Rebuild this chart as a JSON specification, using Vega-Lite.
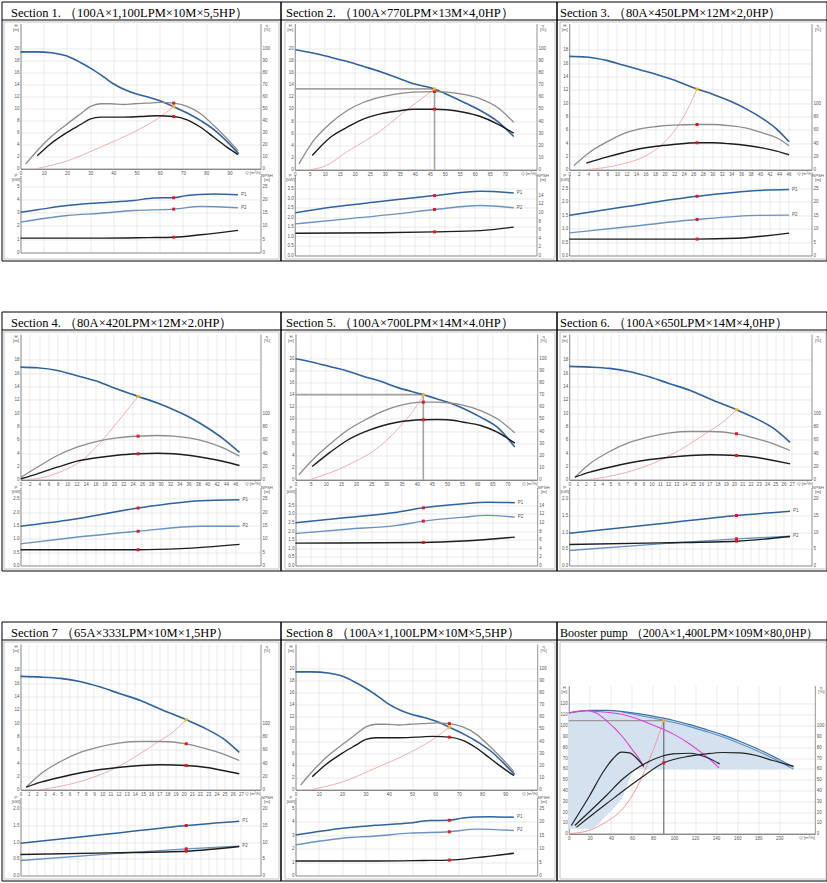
{
"$schema":"https://vega.github.io/schema/vega-lite/v6.json",
"padding":{"left":0.5,"top":0.5,"right":0.5,"bottom":0.5},
"config":{
 "view":{"stroke":"#000","strokeWidth":1},
 "axis":{"ticks":false,"labelFontSize":4.5,"labelColor":"#555","labelFont":"Liberation Sans","labelPadding":1.5,"labelFlush":false,"labelOverlap":false,"labelBound":false,"domainColor":"#777","domainWidth":0.8,"gridColor":"#dcdcdc","gridWidth":0.6,"titleFontSize":4.3,"titleFontWeight":"normal","titleColor":"#555","titleFont":"Liberation Sans","titleLineHeight":4},
 "axisY":{"titleAngle":0,"titleAlign":"center","titleBaseline":"top"},
 "axisLeft":{"titleX":-5},
 "axisRight":{"titleX":6},
 "line":{"interpolate":"monotone"},
 "square":{"size":9,"opacity":1},
 "text":{"fontSize":4.5,"color":"#555","font":"Liberation Sans","align":"left","dx":3}
},
"datasets":{
"A":[
{"c":"H","q":0,"v":19.4},{"c":"H","q":7,"v":19.4},{"c":"H","q":14,"v":19.2},{"c":"H","q":20,"v":18.7},{"c":"H","q":26,"v":17.6},{"c":"H","q":31,"v":16.5},{"c":"H","q":36,"v":15.2},{"c":"H","q":40,"v":14.1},{"c":"H","q":45,"v":13.1},{"c":"H","q":50,"v":12.4},{"c":"H","q":55,"v":11.9},{"c":"H","q":60,"v":11.3},{"c":"H","q":66,"v":10.3},{"c":"H","q":72,"v":9.2},{"c":"H","q":78,"v":7.9},{"c":"H","q":84,"v":6.3},{"c":"H","q":89,"v":4.5},{"c":"H","q":94,"v":2.5},
{"c":"E1","q":2.2,"v":3.9},{"c":"E1","q":7.2,"v":15},{"c":"E1","q":12.9,"v":26.1},{"c":"E1","q":20.1,"v":37.2},{"c":"E1","q":25.9,"v":45.6},{"c":"E1","q":30.2,"v":51.7},{"c":"E1","q":34.5,"v":53.9},{"c":"E1","q":38.8,"v":53.9},{"c":"E1","q":44.5,"v":53.3},{"c":"E1","q":48.9,"v":53.9},{"c":"E1","q":54.6,"v":54.4},{"c":"E1","q":60.3,"v":55},{"c":"E1","q":66,"v":54.4},{"c":"E1","q":71.8,"v":51.7},{"c":"E1","q":77.6,"v":45.6},{"c":"E1","q":83.3,"v":35.8},{"c":"E1","q":89.1,"v":24.7},{"c":"E1","q":93.7,"v":15},
{"c":"E2","q":7.2,"v":10.8},{"c":"E2","q":12.9,"v":20.6},{"c":"E2","q":20.1,"v":30.2},{"c":"E2","q":25.9,"v":36.7},{"c":"E2","q":30.2,"v":41.4},{"c":"E2","q":34.5,"v":42.8},{"c":"E2","q":38.8,"v":42.8},{"c":"E2","q":44.5,"v":42.8},{"c":"E2","q":51.7,"v":43.3},{"c":"E2","q":58.9,"v":43.9},{"c":"E2","q":66,"v":43.3},{"c":"E2","q":71.8,"v":40.6},{"c":"E2","q":77.6,"v":34.4},{"c":"E2","q":83.3,"v":26.1},{"c":"E2","q":89.1,"v":17.8},{"c":"E2","q":93.7,"v":11.7},
{"c":"S","q":6.6,"v":0},{"c":"S","q":20.1,"v":1.3},{"c":"S","q":34.5,"v":3.6},{"c":"S","q":48.9,"v":6.1},{"c":"S","q":59,"v":8.3},{"c":"S","q":66,"v":10.3},
{"c":"P1","q":0,"v":3.03},{"c":"P1","q":7.2,"v":3.21},{"c":"P1","q":20.1,"v":3.53},{"c":"P1","q":34.5,"v":3.74},{"c":"P1","q":48.9,"v":3.91},{"c":"P1","q":57.5,"v":4.1},{"c":"P1","q":66,"v":4.12},{"c":"P1","q":71.8,"v":4.29},{"c":"P1","q":77.6,"v":4.36},{"c":"P1","q":83.3,"v":4.39},{"c":"P1","q":93.7,"v":4.34},
{"c":"P2","q":0,"v":2.28},{"c":"P2","q":20.1,"v":2.78},{"c":"P2","q":34.5,"v":2.95},{"c":"P2","q":48.9,"v":3.16},{"c":"P2","q":66,"v":3.26},{"c":"P2","q":77.6,"v":3.46},{"c":"P2","q":93.7,"v":3.36},
{"c":"N","q":0,"v":5.4},{"c":"N","q":34.5,"v":5.4},{"c":"N","q":55,"v":5.6},{"c":"N","q":66,"v":5.75},{"c":"N","q":77.6,"v":6.65},{"c":"N","q":93.7,"v":8.3},
{"c":"oH","q":66,"v":10.3},{"c":"oE1","q":66,"v":54.4},{"c":"oE2","q":66,"v":43.3},{"c":"oP1","q":66,"v":4.12},{"c":"oP2","q":66,"v":3.26},{"c":"oN","q":66,"v":5.75}
],
"B":[
{"c":"H","q":0.2,"v":19.74},{"c":"H","q":6.3,"v":19.18},{"c":"H","q":11.9,"v":18.52},{"c":"H","q":17.5,"v":17.81},{"c":"H","q":23,"v":16.99},{"c":"H","q":28.6,"v":16.12},{"c":"H","q":34.1,"v":15.13},{"c":"H","q":39.7,"v":14.14},{"c":"H","q":46.6,"v":13.3},{"c":"H","q":50.8,"v":12.38},{"c":"H","q":56.3,"v":11.12},{"c":"H","q":61.9,"v":9.75},{"c":"H","q":67.5,"v":8.0},{"c":"H","q":73,"v":5.48},
{"c":"E1","q":1.4,"v":4.9},{"c":"E1","q":6.3,"v":24.1},{"c":"E1","q":11.9,"v":38.3},{"c":"E1","q":17.5,"v":48.7},{"c":"E1","q":23,"v":55.5},{"c":"E1","q":28.6,"v":59.7},{"c":"E1","q":34.1,"v":62.4},{"c":"E1","q":39.7,"v":63.8},{"c":"E1","q":46.6,"v":64.3},{"c":"E1","q":50.8,"v":63.8},{"c":"E1","q":56.3,"v":61.9},{"c":"E1","q":61.9,"v":58.3},{"c":"E1","q":67.5,"v":51.4},{"c":"E1","q":73,"v":39.1},
{"c":"E2","q":5.8,"v":11.75},{"c":"E2","q":11.9,"v":26.8},{"c":"E2","q":17.5,"v":35},{"c":"E2","q":23,"v":41.9},{"c":"E2","q":28.6,"v":46},{"c":"E2","q":34.1,"v":48.2},{"c":"E2","q":39.7,"v":49.8},{"c":"E2","q":46.6,"v":49.8},{"c":"E2","q":50.8,"v":49.3},{"c":"E2","q":56.3,"v":47.3},{"c":"E2","q":61.9,"v":43.8},{"c":"E2","q":67.5,"v":37.8},{"c":"E2","q":73,"v":30.1},
{"c":"S","q":5,"v":0},{"c":"S","q":10,"v":0.6},{"c":"S","q":17.5,"v":3.0},{"c":"S","q":28.6,"v":6.4},{"c":"S","q":36.9,"v":9.7},{"c":"S","q":42,"v":11.6},{"c":"S","q":46.6,"v":13.3},
{"c":"P1","q":0.2,"v":2.24},{"c":"P1","q":11.9,"v":2.53},{"c":"P1","q":28.6,"v":2.83},{"c":"P1","q":46.6,"v":3.14},{"c":"P1","q":61.9,"v":3.37},{"c":"P1","q":73,"v":3.28},
{"c":"P2","q":0.2,"v":1.66},{"c":"P2","q":17.5,"v":1.92},{"c":"P2","q":34.1,"v":2.18},{"c":"P2","q":46.6,"v":2.41},{"c":"P2","q":61.9,"v":2.62},{"c":"P2","q":73,"v":2.5},
{"c":"N","q":0.2,"v":5.2},{"c":"N","q":28.6,"v":5.3},{"c":"N","q":46.6,"v":5.5},{"c":"N","q":61.9,"v":5.8},{"c":"N","q":73,"v":6.6},
{"c":"oH","q":46.6,"v":13.3},{"c":"oE1","q":46.6,"v":64.3},{"c":"oE2","q":46.6,"v":49.8},{"c":"oP1","q":46.6,"v":3.14},{"c":"oP2","q":46.6,"v":2.41},{"c":"oN","q":46.6,"v":5.5}
],
"C":[
{"c":"H","q":0,"v":17},{"c":"H","q":3.6,"v":16.9},{"c":"H","q":7.8,"v":16.4},{"c":"H","q":11.3,"v":15.7},{"c":"H","q":14.8,"v":15},{"c":"H","q":18.3,"v":14.3},{"c":"H","q":21.8,"v":13.5},{"c":"H","q":26.8,"v":12.1},{"c":"H","q":30.2,"v":11.3},{"c":"H","q":33.7,"v":10.3},{"c":"H","q":37.2,"v":9.1},{"c":"H","q":40.7,"v":7.6},{"c":"H","q":43.5,"v":6.1},{"c":"H","q":46.1,"v":4.2},
{"c":"E1","q":1,"v":6.4},{"c":"E1","q":4.3,"v":26.4},{"c":"E1","q":7.8,"v":41.4},{"c":"E1","q":11.3,"v":54},{"c":"E1","q":14.8,"v":61.5},{"c":"E1","q":18.3,"v":64.9},{"c":"E1","q":21.8,"v":66.9},{"c":"E1","q":26.8,"v":67.9},{"c":"E1","q":30.2,"v":67.9},{"c":"E1","q":33.7,"v":66},{"c":"E1","q":37.2,"v":62.4},{"c":"E1","q":40.7,"v":54.9},{"c":"E1","q":43.5,"v":48},{"c":"E1","q":46.1,"v":36},
{"c":"E2","q":3.6,"v":9.9},{"c":"E2","q":7.8,"v":18.9},{"c":"E2","q":11.3,"v":25.5},{"c":"E2","q":14.8,"v":31.5},{"c":"E2","q":18.3,"v":35.4},{"c":"E2","q":21.8,"v":37.9},{"c":"E2","q":26.8,"v":40.5},{"c":"E2","q":30.2,"v":40.5},{"c":"E2","q":33.7,"v":39},{"c":"E2","q":37.2,"v":36.4},{"c":"E2","q":40.7,"v":32.4},{"c":"E2","q":43.5,"v":27.9},{"c":"E2","q":46.1,"v":22.5},
{"c":"S","q":3.6,"v":0},{"c":"S","q":11.3,"v":0.9},{"c":"S","q":16.1,"v":2.1},{"c":"S","q":19.6,"v":3.9},{"c":"S","q":23.1,"v":6.9},{"c":"S","q":25.2,"v":9.6},{"c":"S","q":26.8,"v":12.1},
{"c":"P1","q":0,"v":1.49},{"c":"P1","q":11.3,"v":1.8},{"c":"P1","q":26.8,"v":2.2},{"c":"P1","q":39.7,"v":2.42},{"c":"P1","q":46.1,"v":2.45},
{"c":"P2","q":0,"v":0.84},{"c":"P2","q":11.3,"v":1.05},{"c":"P2","q":26.8,"v":1.34},{"c":"P2","q":39.7,"v":1.49},{"c":"P2","q":46.1,"v":1.5},
{"c":"N","q":0,"v":6.1},{"c":"N","q":18.3,"v":6.1},{"c":"N","q":26.8,"v":6.1},{"c":"N","q":35,"v":6.4},{"c":"N","q":46.1,"v":8.3},
{"c":"oH","q":26.8,"v":12.1},{"c":"oE1","q":26.8,"v":67.9},{"c":"oE2","q":26.8,"v":40.5},{"c":"oP1","q":26.8,"v":2.2},{"c":"oP2","q":26.8,"v":1.34},{"c":"oN","q":26.8,"v":6.1}
],
"D":[
{"c":"H","q":0,"v":16.9},{"c":"H","q":3.6,"v":16.8},{"c":"H","q":7.9,"v":16.4},{"c":"H","q":12.1,"v":15.6},{"c":"H","q":17.1,"v":14.6},{"c":"H","q":20.7,"v":13.6},{"c":"H","q":25.2,"v":12.5},{"c":"H","q":29.3,"v":11.5},{"c":"H","q":32.8,"v":10.5},{"c":"H","q":36.4,"v":9.3},{"c":"H","q":40,"v":7.8},{"c":"H","q":43.5,"v":6.1},{"c":"H","q":46.9,"v":4.1},
{"c":"E1","q":0.1,"v":3.9},{"c":"E1","q":3.6,"v":18.9},{"c":"E1","q":7.9,"v":36.4},{"c":"E1","q":12.1,"v":48.9},{"c":"E1","q":17.1,"v":58.9},{"c":"E1","q":20.7,"v":63},{"c":"E1","q":25.2,"v":65.4},{"c":"E1","q":29.3,"v":66.4},{"c":"E1","q":32.8,"v":65.4},{"c":"E1","q":36.4,"v":62.4},{"c":"E1","q":40,"v":56.4},{"c":"E1","q":43.5,"v":47.4},{"c":"E1","q":46.9,"v":35.4},
{"c":"E2","q":0.1,"v":1.5},{"c":"E2","q":3.6,"v":9},{"c":"E2","q":7.9,"v":18.9},{"c":"E2","q":12.1,"v":27.9},{"c":"E2","q":17.1,"v":33.9},{"c":"E2","q":20.7,"v":36.9},{"c":"E2","q":25.2,"v":39},{"c":"E2","q":29.3,"v":39.9},{"c":"E2","q":32.8,"v":39},{"c":"E2","q":36.4,"v":36.4},{"c":"E2","q":40,"v":32.4},{"c":"E2","q":43.5,"v":27.4},{"c":"E2","q":46.9,"v":21.4},
{"c":"S","q":1.8,"v":0},{"c":"S","q":6.4,"v":0.64},{"c":"S","q":10,"v":1.65},{"c":"S","q":13.6,"v":3.15},{"c":"S","q":17.1,"v":5.6},{"c":"S","q":20.7,"v":8.6},{"c":"S","q":23.6,"v":11.1},{"c":"S","q":25.2,"v":12.5},
{"c":"P1","q":0,"v":1.47},{"c":"P1","q":10,"v":1.69},{"c":"P1","q":25.2,"v":2.15},{"c":"P1","q":38.6,"v":2.42},{"c":"P1","q":46.9,"v":2.46},
{"c":"P2","q":0,"v":0.81},{"c":"P2","q":10,"v":1.02},{"c":"P2","q":25.2,"v":1.28},{"c":"P2","q":38.6,"v":1.47},{"c":"P2","q":46.9,"v":1.47},
{"c":"N","q":0,"v":5.9},{"c":"N","q":25.2,"v":5.9},{"c":"N","q":34.3,"v":6.3},{"c":"N","q":46.9,"v":7.9},
{"c":"oH","q":25.2,"v":12.5},{"c":"oE1","q":25.2,"v":65.4},{"c":"oE2","q":25.2,"v":39},{"c":"oP1","q":25.2,"v":2.15},{"c":"oP2","q":25.2,"v":1.28},{"c":"oN","q":25.2,"v":5.9}
],
"E":[
{"c":"H","q":0,"v":19.9},{"c":"H","q":6,"v":19.3},{"c":"H","q":11.5,"v":18.6},{"c":"H","q":17,"v":17.9},{"c":"H","q":22.6,"v":17},{"c":"H","q":28.1,"v":16.2},{"c":"H","q":33.6,"v":15.2},{"c":"H","q":42.2,"v":14},{"c":"H","q":46.8,"v":13.3},{"c":"H","q":50.1,"v":12.8},{"c":"H","q":55.6,"v":11.7},{"c":"H","q":61.1,"v":10.3},{"c":"H","q":66.6,"v":8.65},{"c":"H","q":72.4,"v":5.4},
{"c":"E1","q":1.1,"v":4.1},{"c":"E1","q":6,"v":17.3},{"c":"E1","q":11.5,"v":29.6},{"c":"E1","q":17,"v":40.5},{"c":"E1","q":22.6,"v":48.7},{"c":"E1","q":28.1,"v":55.6},{"c":"E1","q":33.6,"v":60.5},{"c":"E1","q":42.2,"v":63.8},{"c":"E1","q":46.8,"v":63.8},{"c":"E1","q":50.1,"v":63.3},{"c":"E1","q":55.6,"v":61.1},{"c":"E1","q":61.1,"v":56.9},{"c":"E1","q":66.6,"v":50.1},{"c":"E1","q":72.4,"v":38.6},
{"c":"E2","q":5.5,"v":10.9},{"c":"E2","q":11.5,"v":22.7},{"c":"E2","q":17,"v":32.3},{"c":"E2","q":22.6,"v":39.1},{"c":"E2","q":28.1,"v":44},{"c":"E2","q":33.6,"v":47.3},{"c":"E2","q":42.2,"v":49.3},{"c":"E2","q":46.8,"v":49.5},{"c":"E2","q":50.1,"v":49.3},{"c":"E2","q":55.6,"v":47.3},{"c":"E2","q":61.1,"v":44.6},{"c":"E2","q":66.6,"v":39.1},{"c":"E2","q":72.4,"v":30.1},
{"c":"S","q":4.7,"v":0},{"c":"S","q":17,"v":2.35},{"c":"S","q":28.1,"v":5.64},{"c":"S","q":35.8,"v":9.5},{"c":"S","q":40.1,"v":12.2},{"c":"S","q":42.2,"v":14},
{"c":"P1","q":0,"v":2.48},{"c":"P1","q":17,"v":2.79},{"c":"P1","q":33.6,"v":3.1},{"c":"P1","q":42.2,"v":3.35},{"c":"P1","q":55.6,"v":3.59},{"c":"P1","q":63.3,"v":3.68},{"c":"P1","q":72.4,"v":3.65},
{"c":"P2","q":0,"v":1.86},{"c":"P2","q":17,"v":2.11},{"c":"P2","q":33.6,"v":2.33},{"c":"P2","q":42.2,"v":2.58},{"c":"P2","q":55.6,"v":2.81},{"c":"P2","q":63.3,"v":2.91},{"c":"P2","q":72.4,"v":2.81},
{"c":"N","q":0,"v":5.2},{"c":"N","q":42.2,"v":5.35},{"c":"N","q":55.6,"v":5.7},{"c":"N","q":72.4,"v":6.6},
{"c":"oH","q":42.2,"v":14},{"c":"oE1","q":42.2,"v":63.8},{"c":"oE2","q":42.2,"v":49.3},{"c":"oP1","q":42.2,"v":3.35},{"c":"oP2","q":42.2,"v":2.58},{"c":"oN","q":42.2,"v":5.35}
],
"F":[
{"c":"H","q":0,"v":17},{"c":"H","q":2.5,"v":16.9},{"c":"H","q":4.9,"v":16.7},{"c":"H","q":7.4,"v":16.2},{"c":"H","q":9.8,"v":15.4},{"c":"H","q":12.2,"v":14.4},{"c":"H","q":14.7,"v":13.4},{"c":"H","q":17.1,"v":12.1},{"c":"H","q":20.3,"v":10.5},{"c":"H","q":22.8,"v":9.1},{"c":"H","q":24.8,"v":7.7},{"c":"H","q":26.8,"v":5.6},
{"c":"E1","q":0.7,"v":3.9},{"c":"E1","q":2.5,"v":24},{"c":"E1","q":4.9,"v":42.4},{"c":"E1","q":7.4,"v":56.4},{"c":"E1","q":9.8,"v":64.9},{"c":"E1","q":12.2,"v":70.5},{"c":"E1","q":14.7,"v":72.4},{"c":"E1","q":17.1,"v":72.4},{"c":"E1","q":20.3,"v":69},{"c":"E1","q":22.8,"v":61.5},{"c":"E1","q":24.8,"v":54},{"c":"E1","q":26.8,"v":43.9},
{"c":"E2","q":0.7,"v":3.9},{"c":"E2","q":2.5,"v":11.4},{"c":"E2","q":4.9,"v":18.9},{"c":"E2","q":7.4,"v":25.5},{"c":"E2","q":9.8,"v":30.4},{"c":"E2","q":12.2,"v":33.9},{"c":"E2","q":14.7,"v":36.4},{"c":"E2","q":17.1,"v":37.5},{"c":"E2","q":20.3,"v":36.4},{"c":"E2","q":22.8,"v":33.4},{"c":"E2","q":24.8,"v":28.9},{"c":"E2","q":26.8,"v":24},
{"c":"S","q":2.3,"v":0},{"c":"S","q":6.9,"v":1.1},{"c":"S","q":11,"v":2.9},{"c":"S","q":14,"v":4.9},{"c":"S","q":16.5,"v":6.9},{"c":"S","q":18.9,"v":8.9},{"c":"S","q":20.3,"v":10.5},
{"c":"P1","q":0,"v":0.97},{"c":"P1","q":11,"v":1.25},{"c":"P1","q":20.3,"v":1.5},{"c":"P1","q":26.8,"v":1.63},
{"c":"P2","q":0,"v":0.45},{"c":"P2","q":11,"v":0.65},{"c":"P2","q":20.3,"v":0.8},{"c":"P2","q":26.8,"v":0.88},
{"c":"N","q":0,"v":6.3},{"c":"N","q":11,"v":6.8},{"c":"N","q":20.3,"v":7.3},{"c":"N","q":26.8,"v":8.7},
{"c":"oH","q":20.3,"v":10.5},{"c":"oE1","q":20.3,"v":69},{"c":"oE2","q":20.3,"v":36.4},{"c":"oP1","q":20.3,"v":1.5},{"c":"oP2","q":20.3,"v":0.8},{"c":"oN","q":20.3,"v":7.3}
],
"G":[
{"c":"AR","q":0,"v":111.7,"w":4.6},{"c":"AR","q":19.9,"v":114.1,"w":4.6},{"c":"AR","q":35.7,"v":114.1,"w":16.9},{"c":"AR","q":51.5,"v":112.9,"w":35.4},{"c":"AR","q":61,"v":111.5,"w":56.9},{"c":"AR","q":64.2,"v":111,"w":59.4},{"c":"AR","q":83.2,"v":108,"w":59.4},{"c":"AR","q":99,"v":104.9,"w":59.4},{"c":"AR","q":114.9,"v":100.9,"w":59.4},{"c":"AR","q":130.7,"v":96.3,"w":59.4},{"c":"AR","q":146.5,"v":91.4,"w":59.4},{"c":"AR","q":162.4,"v":85.5,"w":59.4},{"c":"AR","q":178.2,"v":79,"w":59.4},{"c":"AR","q":194,"v":71.7,"w":59.4},{"c":"AR","q":210,"v":63,"w":59.4},
{"c":"H1","q":0,"v":111.7},{"c":"H1","q":19.9,"v":114.1},{"c":"H1","q":35.7,"v":114.1},{"c":"H1","q":51.5,"v":112.9},{"c":"H1","q":67.4,"v":110.8},{"c":"H1","q":83.2,"v":108},{"c":"H1","q":99,"v":104.9},{"c":"H1","q":114.9,"v":100.9},{"c":"H1","q":130.7,"v":96.3},{"c":"H1","q":146.5,"v":91.4},{"c":"H1","q":162.4,"v":85.5},{"c":"H1","q":178.2,"v":79},{"c":"H1","q":194,"v":71.7},{"c":"H1","q":213.6,"v":61.5},
{"c":"H2","q":51.5,"v":112.3},{"c":"H2","q":67.4,"v":109.3},{"c":"H2","q":83.2,"v":106.3},{"c":"H2","q":99,"v":103},{"c":"H2","q":114.9,"v":99},{"c":"H2","q":130.7,"v":94.4},{"c":"H2","q":146.5,"v":89.4},{"c":"H2","q":162.4,"v":83.5},{"c":"H2","q":178.2,"v":77},{"c":"H2","q":194,"v":69.7},{"c":"H2","q":213.6,"v":59.7},
{"c":"M1","q":0,"v":111.7},{"c":"M1","q":16.6,"v":113.8},{"c":"M1","q":26.1,"v":111.7},{"c":"M1","q":35.7,"v":104.6},{"c":"M1","q":51.5,"v":89.2},{"c":"M1","q":61,"v":76.9},{"c":"M1","q":67.4,"v":68.6},{"c":"M1","q":71.2,"v":61.5},
{"c":"M2","q":19.9,"v":113.5},{"c":"M2","q":51.5,"v":110.2},{"c":"M2","q":83.2,"v":99.1},{"c":"M2","q":99,"v":92.3},{"c":"M2","q":114.9,"v":83},{"c":"M2","q":127.6,"v":73.8},{"c":"M2","q":137.1,"v":66.1},{"c":"M2","q":142.8,"v":60.9},
{"c":"K1","q":2.4,"v":7.7},{"c":"K1","q":19.9,"v":35.4},{"c":"K1","q":32.5,"v":56.9},{"c":"K1","q":42,"v":69.3},{"c":"K1","q":49.9,"v":75.4},{"c":"K1","q":57.8,"v":74.8},{"c":"K1","q":65.7,"v":68.6},{"c":"K1","q":71.2,"v":62.4},
{"c":"K2","q":5.7,"v":7.7},{"c":"K2","q":35.7,"v":35.4},{"c":"K2","q":51.5,"v":50.8},{"c":"K2","q":67.4,"v":62.1},{"c":"K2","q":83.2,"v":69.8},{"c":"K2","q":99,"v":73.9},{"c":"K2","q":114.9,"v":74.4},{"c":"K2","q":130.7,"v":70.7},{"c":"K2","q":143.4,"v":64.6},
{"c":"K3","q":7.3,"v":6.1},{"c":"K3","q":35.7,"v":27.7},{"c":"K3","q":67.4,"v":50.8},{"c":"K3","q":90.3,"v":65.6},{"c":"K3","q":114.9,"v":71.7},{"c":"K3","q":130.7,"v":73.9},{"c":"K3","q":146.5,"v":75.1},{"c":"K3","q":162.4,"v":74.8},{"c":"K3","q":178.2,"v":72.3},{"c":"K3","q":194,"v":67.7},{"c":"K3","q":213.6,"v":62.4},
{"c":"S","q":0,"v":0},{"c":"S","q":19.9,"v":3.4},{"c":"S","q":35.7,"v":11.1},{"c":"S","q":51.5,"v":23.4},{"c":"S","q":67.4,"v":48},{"c":"S","q":76.9,"v":69.6},{"c":"S","q":83.2,"v":85},{"c":"S","q":90.3,"v":104.6},
{"c":"oH","q":90.3,"v":104.6},{"c":"oK","q":90.3,"v":65.6}
]
},
"columns":3,
"bounds":"flush",
"spacing":{"row":51,"column":0},
"concat":[
{"width":279,"height":259,"data":{"name":"A"},
 "resolve":{"scale":{"x":"independent","y":"independent"},"axis":{"x":"independent","y":"independent"}},
 "layer":[
  {"encoding":{"x":{"field":"q","type":"quantitative","scale":{"domain":[0,103.4],"range":[19,259],"nice":false,"zero":false},"axis":{"orient":"top","offset":-167.3,"grid":true,"labels":false,"values":[0,10,20,30,40,50,60,70,80,90],"title":null}},
   "y":{"field":"v","type":"quantitative","scale":{"domain":[0,24.1],"range":[167.3,22],"nice":false,"zero":false},"axis":{"orient":"left","offset":-19,"grid":true,"values":[0,2,4,6,8,10,12,14,16,18,20],"title":["H","[m]"],"titleY":22}}},
   "layer":[
    {"transform":[{"filter":"datum.c=='S'"}],"mark":{"type":"line","color":"#f3a5a5","strokeWidth":0.9},"encoding":{}},
    {"transform":[{"filter":"datum.c=='H'"}],"mark":{"type":"line","color":"#2f62a0","strokeWidth":1.6},"encoding":{}}]},
  {"encoding":{"x":{"field":"q","type":"quantitative","scale":{"domain":[0,103.4],"range":[19,259],"nice":false,"zero":false},"axis":{"orient":"bottom","offset":-91.7,"values":[0,10,20,30,40,50,60,70,80,90],"title":"Q [m³/h]","titleX":251,"titleY":2}},
   "y":{"field":"v","type":"quantitative","scale":{"domain":[0,120.4],"range":[167.3,22],"nice":false,"zero":false},"axis":{"orient":"right","offset":-20,"values":[0,10,20,30,40,50,60,70,80,90,100],"title":["η","[%]"],"titleY":22}}},
   "layer":[
    {"transform":[{"filter":"datum.c=='E1'"}],"mark":{"type":"line","color":"#8c8c8c","strokeWidth":1.3},"encoding":{}},
    {"transform":[{"filter":"datum.c=='E2'"}],"mark":{"type":"line","color":"#1c1c1c","strokeWidth":1.4},"encoding":{}},
    {"transform":[{"filter":"datum.c=='oE1'||datum.c=='oE2'"}],"mark":{"type":"square","color":"#e3191c"},"encoding":{}}]},
  {"encoding":{"x":{"field":"q","type":"quantitative","scale":{"domain":[0,103.4],"range":[19,259],"nice":false,"zero":false},"axis":{"orient":"top","offset":-251,"grid":true,"labels":false,"values":[0,10,20,30,40,50,60,70,80,90],"title":null}},
   "y":{"field":"v","type":"quantitative","scale":{"domain":[0,5.79],"range":[251,174],"nice":false,"zero":false},"axis":{"orient":"left","offset":-19,"grid":true,"values":[0,1,2,3,4,5],"title":["P","[kW]"],"titleY":172}}},
   "layer":[
    {"transform":[{"filter":"datum.c=='P1'"}],"mark":{"type":"line","color":"#2f62a0","strokeWidth":1.5},"encoding":{}},
    {"transform":[{"filter":"datum.c=='P2'"}],"mark":{"type":"line","color":"#6a93c3","strokeWidth":1.4},"encoding":{}},
    {"transform":[{"filter":"datum.c=='oP1'||datum.c=='oP2'"}],"mark":{"type":"square","color":"#e3191c"},"encoding":{}},
    {"transform":[{"filter":"datum.c=='P1'||datum.c=='P2'"},{"joinaggregate":[{"op":"max","field":"q","as":"m"}],"groupby":["c"]},{"filter":"datum.q==datum.m"}],"mark":{"type":"text"},"encoding":{"text":{"field":"c"}}}]},
  {"encoding":{"x":{"field":"q","type":"quantitative","scale":{"domain":[-8.186,112.02],"range":[0,279],"nice":false,"zero":false},"axis":{"orient":"top","offset":-18,"labels":false,"grid":false,"domainColor":"#000","domainWidth":1,"title":"Section 1. （100A×1,100LPM×10M×5,5HP）","titleFont":"Liberation Serif","titleFontSize":12.5,"titleColor":"#000","titleX":9,"titleY":-3,"titleAlign":"left","titleBaseline":"alphabetic"}},
   "y":{"field":"v","type":"quantitative","scale":{"domain":[0,28.95],"range":[251,174],"nice":false,"zero":false},"axis":{"orient":"right","offset":-20,"values":[0,5,10,15,20,25],"title":["NPSH","[m]"],"titleY":172}}},
   "layer":[
    {"transform":[{"filter":"datum.c=='N'"}],"mark":{"type":"line","color":"#1c1c1c","strokeWidth":1.4},"encoding":{}},
    {"transform":[{"filter":"datum.c=='oN'"}],"mark":{"type":"square","color":"#e3191c"},"encoding":{}}]},
  {"encoding":{"x":{"field":"q","type":"quantitative","scale":{"domain":[-7.54,111.155],"range":[1.5,277],"nice":false,"zero":false},"axis":{"orient":"top","grid":true,"labels":false,"domain":false,"values":[-7.54,111.155],"gridColor":"#b4b4b4","gridWidth":0.8,"title":null}},
   "y":{"field":"v","type":"quantitative","scale":{"domain":[-14.795,24.432],"range":[256.5,20],"nice":false,"zero":false},"axis":{"orient":"left","grid":true,"labels":false,"domain":false,"values":[-14.795,24.432],"gridColor":"#b4b4b4","gridWidth":0.8,"title":null}}},
   "layer":[{"transform":[{"filter":"datum.c=='oH'"}],"mark":{"type":"square","color":"#f2b316"},"encoding":{}}]}
 ]},
{"width":276,"height":259,"data":{"name":"B"},
 "resolve":{"scale":{"x":"independent","y":"independent"},"axis":{"x":"independent","y":"independent"}},
 "layer":[
  {"encoding":{"x":{"field":"q","type":"quantitative","scale":{"domain":[0,80.6],"range":[14.3,256],"nice":false,"zero":false},"axis":{"orient":"top","offset":-168.3,"grid":true,"labels":false,"values":[0,5,10,15,20,25,30,35,40,45,50,55,60,65,70],"title":null}},
   "y":{"field":"v","type":"quantitative","scale":{"domain":[0,24.06],"range":[168.3,22],"nice":false,"zero":false},"axis":{"orient":"left","offset":-14.3,"grid":true,"values":[0,2,4,6,8,10,12,14,16,18,20],"title":["H","[m]"],"titleY":22}}},
   "layer":[
    {"transform":[{"filter":"datum.c=='S'"}],"mark":{"type":"line","color":"#f3a5a5","strokeWidth":0.9},"encoding":{}},
    {"transform":[{"filter":"datum.c=='oH'"}],"mark":{"type":"rule","color":"#a3a3a3","strokeWidth":1.8},"encoding":{"x2":{"datum":0}}},
    {"transform":[{"filter":"datum.c=='oH'"}],"mark":{"type":"rule","color":"#a3a3a3","strokeWidth":1.6},"encoding":{"y2":{"datum":0}}},
    {"transform":[{"filter":"datum.c=='H'"}],"mark":{"type":"line","color":"#2f62a0","strokeWidth":1.6},"encoding":{}}]},
  {"encoding":{"x":{"field":"q","type":"quantitative","scale":{"domain":[0,80.6],"range":[14.3,256],"nice":false,"zero":false},"axis":{"orient":"bottom","offset":-90.7,"values":[0,5,10,15,20,25,30,35,40,45,50,55,60,65,70],"title":"Q [m³/h]","titleX":248,"titleY":2}},
   "y":{"field":"v","type":"quantitative","scale":{"domain":[0,120.2],"range":[168.3,22],"nice":false,"zero":false},"axis":{"orient":"right","offset":-20,"values":[0,10,20,30,40,50,60,70,80,90,100],"title":["η","[%]"],"titleY":22}}},
   "layer":[
    {"transform":[{"filter":"datum.c=='E1'"}],"mark":{"type":"line","color":"#8c8c8c","strokeWidth":1.3},"encoding":{}},
    {"transform":[{"filter":"datum.c=='E2'"}],"mark":{"type":"line","color":"#1c1c1c","strokeWidth":1.4},"encoding":{}},
    {"transform":[{"filter":"datum.c=='oE1'||datum.c=='oE2'"}],"mark":{"type":"square","color":"#e3191c"},"encoding":{}}]},
  {"encoding":{"x":{"field":"q","type":"quantitative","scale":{"domain":[0,80.6],"range":[14.3,256],"nice":false,"zero":false},"axis":{"orient":"top","offset":-254,"grid":true,"labels":false,"values":[0,5,10,15,20,25,30,35,40,45,50,55,60,65,70],"title":null}},
   "y":{"field":"v","type":"quantitative","scale":{"domain":[0,4.23],"range":[254,173.3],"nice":false,"zero":false},"axis":{"orient":"left","offset":-14.3,"grid":true,"values":[0,0.5,1,1.5,2,2.5,3,3.5],"format":".1f","title":["P","[kW]"],"titleY":171.5}}},
   "layer":[
    {"transform":[{"filter":"datum.c=='P1'"}],"mark":{"type":"line","color":"#2f62a0","strokeWidth":1.5},"encoding":{}},
    {"transform":[{"filter":"datum.c=='P2'"}],"mark":{"type":"line","color":"#6a93c3","strokeWidth":1.4},"encoding":{}},
    {"transform":[{"filter":"datum.c=='oP1'||datum.c=='oP2'"}],"mark":{"type":"square","color":"#e3191c"},"encoding":{}},
    {"transform":[{"filter":"datum.c=='P1'||datum.c=='P2'"},{"joinaggregate":[{"op":"max","field":"q","as":"m"}],"groupby":["c"]},{"filter":"datum.q==datum.m"}],"mark":{"type":"text"},"encoding":{"text":{"field":"c"}}}]},
  {"encoding":{"x":{"field":"q","type":"quantitative","scale":{"domain":[-4.769,87.27],"range":[0,276],"nice":false,"zero":false},"axis":{"orient":"top","offset":-18,"labels":false,"grid":false,"domainColor":"#000","domainWidth":1,"title":"Section 2. （100A×770LPM×13M×4,0HP）","titleFont":"Liberation Serif","titleFontSize":12.5,"titleColor":"#000","titleX":5,"titleY":-3,"titleAlign":"left","titleBaseline":"alphabetic"}},
   "y":{"field":"v","type":"quantitative","scale":{"domain":[0,18.8],"range":[254,173.3],"nice":false,"zero":false},"axis":{"orient":"right","offset":-20,"values":[0,2,4,6,8,10,12,14],"title":["NPSH","[m]"],"titleY":171.5}}},
   "layer":[
    {"transform":[{"filter":"datum.c=='N'"}],"mark":{"type":"line","color":"#1c1c1c","strokeWidth":1.4},"encoding":{}},
    {"transform":[{"filter":"datum.c=='oN'"}],"mark":{"type":"square","color":"#e3191c"},"encoding":{}}]},
  {"encoding":{"x":{"field":"q","type":"quantitative","scale":{"domain":[-3.435,86.602],"range":[4,274],"nice":false,"zero":false},"axis":{"orient":"top","grid":true,"labels":false,"domain":false,"values":[-3.435,86.602],"gridColor":"#b4b4b4","gridWidth":0.8,"title":null}},
   "y":{"field":"v","type":"quantitative","scale":{"domain":[-14.505,24.389],"range":[256.5,20],"nice":false,"zero":false},"axis":{"orient":"left","grid":true,"labels":false,"domain":false,"values":[-14.505,24.389],"gridColor":"#b4b4b4","gridWidth":0.8,"title":null}}},
   "layer":[{"transform":[{"filter":"datum.c=='oH'"}],"mark":{"type":"square","color":"#f2b316"},"encoding":{}}]}
 ]},
{"width":270,"height":259,"data":{"name":"C"},
 "resolve":{"scale":{"x":"independent","y":"independent"},"axis":{"x":"independent","y":"independent"}},
 "layer":[
  {"encoding":{"x":{"field":"q","type":"quantitative","scale":{"domain":[0,50.8],"range":[12.7,255],"nice":false,"zero":false},"axis":{"orient":"top","offset":-168.3,"grid":true,"labels":false,"values":[0,2,4,6,8,10,12,14,16,18,20,22,24,26,28,30,32,34,36,38,40,42,44,46],"title":null}},
   "y":{"field":"v","type":"quantitative","scale":{"domain":[0,21.93],"range":[168.3,22],"nice":false,"zero":false},"axis":{"orient":"left","offset":-12.7,"grid":true,"values":[0,2,4,6,8,10,12,14,16,18],"title":["H","[m]"],"titleY":22}}},
   "layer":[
    {"transform":[{"filter":"datum.c=='S'"}],"mark":{"type":"line","color":"#f3a5a5","strokeWidth":0.9},"encoding":{}},
    {"transform":[{"filter":"datum.c=='H'"}],"mark":{"type":"line","color":"#2f62a0","strokeWidth":1.6},"encoding":{}}]},
  {"encoding":{"x":{"field":"q","type":"quantitative","scale":{"domain":[0,50.8],"range":[12.7,255],"nice":false,"zero":false},"axis":{"orient":"bottom","offset":-90.7,"values":[0,2,4,6,8,10,12,14,16,18,20,22,24,26,28,30,32,34,36,38,40,42,44,46],"title":"Q [m³/h]","titleX":248,"titleY":2}},
   "y":{"field":"v","type":"quantitative","scale":{"domain":[0,219.3],"range":[168.3,22],"nice":false,"zero":false},"axis":{"orient":"right","offset":-15,"values":[0,20,40,60,80,100],"title":["η","[%]"],"titleY":22}}},
   "layer":[
    {"transform":[{"filter":"datum.c=='E1'"}],"mark":{"type":"line","color":"#8c8c8c","strokeWidth":1.3},"encoding":{}},
    {"transform":[{"filter":"datum.c=='E2'"}],"mark":{"type":"line","color":"#1c1c1c","strokeWidth":1.4},"encoding":{}},
    {"transform":[{"filter":"datum.c=='oE1'||datum.c=='oE2'"}],"mark":{"type":"square","color":"#e3191c"},"encoding":{}}]},
  {"encoding":{"x":{"field":"q","type":"quantitative","scale":{"domain":[0,50.8],"range":[12.7,255],"nice":false,"zero":false},"axis":{"orient":"top","offset":-254,"grid":true,"labels":false,"values":[0,2,4,6,8,10,12,14,16,18,20,22,24,26,28,30,32,34,36,38,40,42,44,46],"title":null}},
   "y":{"field":"v","type":"quantitative","scale":{"domain":[0,3.0],"range":[254,173.3],"nice":false,"zero":false},"axis":{"orient":"left","offset":-12.7,"grid":true,"values":[0,0.5,1,1.5,2,2.5],"format":".1f","title":["P","[kW]"],"titleY":171.5}}},
   "layer":[
    {"transform":[{"filter":"datum.c=='P1'"}],"mark":{"type":"line","color":"#2f62a0","strokeWidth":1.5},"encoding":{}},
    {"transform":[{"filter":"datum.c=='P2'"}],"mark":{"type":"line","color":"#6a93c3","strokeWidth":1.4},"encoding":{}},
    {"transform":[{"filter":"datum.c=='oP1'||datum.c=='oP2'"}],"mark":{"type":"square","color":"#e3191c"},"encoding":{}},
    {"transform":[{"filter":"datum.c=='P1'||datum.c=='P2'"},{"joinaggregate":[{"op":"max","field":"q","as":"m"}],"groupby":["c"]},{"filter":"datum.q==datum.m"}],"mark":{"type":"text"},"encoding":{"text":{"field":"c"}}}]},
  {"encoding":{"x":{"field":"q","type":"quantitative","scale":{"domain":[-2.663,53.94],"range":[0,270],"nice":false,"zero":false},"axis":{"orient":"top","offset":-18,"labels":false,"grid":false,"domainColor":"#000","domainWidth":1,"title":"Section 3. （80A×450LPM×12M×2,0HP）","titleFont":"Liberation Serif","titleFontSize":12.5,"titleColor":"#000","titleX":3,"titleY":-3,"titleAlign":"left","titleBaseline":"alphabetic"}},
   "y":{"field":"v","type":"quantitative","scale":{"domain":[0,30],"range":[254,173.3],"nice":false,"zero":false},"axis":{"orient":"right","offset":-15,"values":[0,5,10,15,20,25],"title":["NPSH","[m]"],"titleY":171.5}}},
   "layer":[
    {"transform":[{"filter":"datum.c=='N'"}],"mark":{"type":"line","color":"#1c1c1c","strokeWidth":1.4},"encoding":{}},
    {"transform":[{"filter":"datum.c=='oN'"}],"mark":{"type":"square","color":"#e3191c"},"encoding":{}}]},
  {"encoding":{"x":{"field":"q","type":"quantitative","scale":{"domain":[-2.034,53.63],"range":[3,268.5],"nice":false,"zero":false},"axis":{"orient":"top","grid":true,"labels":false,"domain":false,"values":[-2.034,53.63],"gridColor":"#b4b4b4","gridWidth":0.8,"title":null}},
   "y":{"field":"v","type":"quantitative","scale":{"domain":[-13.221,22.23],"range":[256.5,20],"nice":false,"zero":false},"axis":{"orient":"left","grid":true,"labels":false,"domain":false,"values":[-13.221,22.23],"gridColor":"#b4b4b4","gridWidth":0.8,"title":null}}},
   "layer":[{"transform":[{"filter":"datum.c=='oH'"}],"mark":{"type":"square","color":"#f2b316"},"encoding":{}}]}
 ]},
{"width":279,"height":259,"data":{"name":"D"},
 "resolve":{"scale":{"x":"independent","y":"independent"},"axis":{"x":"independent","y":"independent"}},
 "layer":[
  {"encoding":{"x":{"field":"q","type":"quantitative","scale":{"domain":[0,51.4],"range":[19,259],"nice":false,"zero":false},"axis":{"orient":"top","offset":-168.3,"grid":true,"labels":false,"values":[0,2,4,6,8,10,12,14,16,18,20,22,24,26,28,30,32,34,36,38,40,42,44,46],"title":null}},
   "y":{"field":"v","type":"quantitative","scale":{"domain":[0,21.86],"range":[168.3,22.5],"nice":false,"zero":false},"axis":{"orient":"left","offset":-19,"grid":true,"values":[0,2,4,6,8,10,12,14,16,18],"title":["H","[m]"],"titleY":22.5}}},
   "layer":[
    {"transform":[{"filter":"datum.c=='S'"}],"mark":{"type":"line","color":"#f3a5a5","strokeWidth":0.9},"encoding":{}},
    {"transform":[{"filter":"datum.c=='H'"}],"mark":{"type":"line","color":"#2f62a0","strokeWidth":1.6},"encoding":{}}]},
  {"encoding":{"x":{"field":"q","type":"quantitative","scale":{"domain":[0,51.4],"range":[19,259],"nice":false,"zero":false},"axis":{"orient":"bottom","offset":-90.7,"values":[0,2,4,6,8,10,12,14,16,18,20,22,24,26,28,30,32,34,36,38,40,42,44,46],"title":"Q [m³/h]","titleX":251,"titleY":2}},
   "y":{"field":"v","type":"quantitative","scale":{"domain":[0,218.6],"range":[168.3,22.5],"nice":false,"zero":false},"axis":{"orient":"right","offset":-20,"values":[0,20,40,60,80,100],"title":["η","[%]"],"titleY":22.5}}},
   "layer":[
    {"transform":[{"filter":"datum.c=='E1'"}],"mark":{"type":"line","color":"#8c8c8c","strokeWidth":1.3},"encoding":{}},
    {"transform":[{"filter":"datum.c=='E2'"}],"mark":{"type":"line","color":"#1c1c1c","strokeWidth":1.4},"encoding":{}},
    {"transform":[{"filter":"datum.c=='oE1'||datum.c=='oE2'"}],"mark":{"type":"square","color":"#e3191c"},"encoding":{}}]},
  {"encoding":{"x":{"field":"q","type":"quantitative","scale":{"domain":[0,51.4],"range":[19,259],"nice":false,"zero":false},"axis":{"orient":"top","offset":-254,"grid":true,"labels":false,"values":[0,2,4,6,8,10,12,14,16,18,20,22,24,26,28,30,32,34,36,38,40,42,44,46],"title":null}},
   "y":{"field":"v","type":"quantitative","scale":{"domain":[0,2.93],"range":[254,175.7],"nice":false,"zero":false},"axis":{"orient":"left","offset":-19,"grid":true,"values":[0,0.5,1,1.5,2,2.5],"format":".1f","title":["P","[kW]"],"titleY":174}}},
   "layer":[
    {"transform":[{"filter":"datum.c=='P1'"}],"mark":{"type":"line","color":"#2f62a0","strokeWidth":1.5},"encoding":{}},
    {"transform":[{"filter":"datum.c=='P2'"}],"mark":{"type":"line","color":"#6a93c3","strokeWidth":1.4},"encoding":{}},
    {"transform":[{"filter":"datum.c=='oP1'||datum.c=='oP2'"}],"mark":{"type":"square","color":"#e3191c"},"encoding":{}},
    {"transform":[{"filter":"datum.c=='P1'||datum.c=='P2'"},{"joinaggregate":[{"op":"max","field":"q","as":"m"}],"groupby":["c"]},{"filter":"datum.q==datum.m"}],"mark":{"type":"text"},"encoding":{"text":{"field":"c"}}}]},
  {"encoding":{"x":{"field":"q","type":"quantitative","scale":{"domain":[-4.069,55.68],"range":[0,279],"nice":false,"zero":false},"axis":{"orient":"top","offset":-18,"labels":false,"grid":false,"domainColor":"#000","domainWidth":1,"title":"Section 4. （80A×420LPM×12M×2.0HP）","titleFont":"Liberation Serif","titleFontSize":12.5,"titleColor":"#000","titleX":9,"titleY":-3,"titleAlign":"left","titleBaseline":"alphabetic"}},
   "y":{"field":"v","type":"quantitative","scale":{"domain":[0,29.3],"range":[254,175.7],"nice":false,"zero":false},"axis":{"orient":"right","offset":-20,"values":[0,5,10,15,20,25],"title":["NPSH","[m]"],"titleY":174}}},
   "layer":[
    {"transform":[{"filter":"datum.c=='N'"}],"mark":{"type":"line","color":"#1c1c1c","strokeWidth":1.4},"encoding":{}},
    {"transform":[{"filter":"datum.c=='oN'"}],"mark":{"type":"square","color":"#e3191c"},"encoding":{}}]},
  {"encoding":{"x":{"field":"q","type":"quantitative","scale":{"domain":[-3.748,55.255],"range":[1.5,277],"nice":false,"zero":false},"axis":{"orient":"top","grid":true,"labels":false,"domain":false,"values":[-3.748,55.255],"gridColor":"#b4b4b4","gridWidth":0.8,"title":null}},
   "y":{"field":"v","type":"quantitative","scale":{"domain":[-13.224,22.235],"range":[256.5,20],"nice":false,"zero":false},"axis":{"orient":"left","grid":true,"labels":false,"domain":false,"values":[-13.224,22.235],"gridColor":"#b4b4b4","gridWidth":0.8,"title":null}}},
   "layer":[{"transform":[{"filter":"datum.c=='oH'"}],"mark":{"type":"square","color":"#f2b316"},"encoding":{}}]}
 ]},
{"width":276,"height":259,"data":{"name":"E"},
 "resolve":{"scale":{"x":"independent","y":"independent"},"axis":{"x":"independent","y":"independent"}},
 "layer":[
  {"encoding":{"x":{"field":"q","type":"quantitative","scale":{"domain":[0,79.8],"range":[15,256.7],"nice":false,"zero":false},"axis":{"orient":"top","offset":-168.3,"grid":true,"labels":false,"values":[0,5,10,15,20,25,30,35,40,45,50,55,60,65,70],"title":null}},
   "y":{"field":"v","type":"quantitative","scale":{"domain":[0,23.98],"range":[168.3,22.5],"nice":false,"zero":false},"axis":{"orient":"left","offset":-15,"grid":true,"values":[0,2,4,6,8,10,12,14,16,18,20],"title":["H","[m]"],"titleY":22.5}}},
   "layer":[
    {"transform":[{"filter":"datum.c=='S'"}],"mark":{"type":"line","color":"#f3a5a5","strokeWidth":0.9},"encoding":{}},
    {"transform":[{"filter":"datum.c=='oH'"}],"mark":{"type":"rule","color":"#a3a3a3","strokeWidth":1.8},"encoding":{"x2":{"datum":0}}},
    {"transform":[{"filter":"datum.c=='oH'"}],"mark":{"type":"rule","color":"#a3a3a3","strokeWidth":1.6},"encoding":{"y2":{"datum":0}}},
    {"transform":[{"filter":"datum.c=='H'"}],"mark":{"type":"line","color":"#2f62a0","strokeWidth":1.6},"encoding":{}}]},
  {"encoding":{"x":{"field":"q","type":"quantitative","scale":{"domain":[0,79.8],"range":[15,256.7],"nice":false,"zero":false},"axis":{"orient":"bottom","offset":-90.7,"values":[0,5,10,15,20,25,30,35,40,45,50,55,60,65,70],"title":"Q [m³/h]","titleX":249,"titleY":2}},
   "y":{"field":"v","type":"quantitative","scale":{"domain":[0,119.8],"range":[168.3,22.5],"nice":false,"zero":false},"axis":{"orient":"right","offset":-19.3,"values":[0,10,20,30,40,50,60,70,80,90,100],"title":["η","[%]"],"titleY":22.5}}},
   "layer":[
    {"transform":[{"filter":"datum.c=='E1'"}],"mark":{"type":"line","color":"#8c8c8c","strokeWidth":1.3},"encoding":{}},
    {"transform":[{"filter":"datum.c=='E2'"}],"mark":{"type":"line","color":"#1c1c1c","strokeWidth":1.4},"encoding":{}},
    {"transform":[{"filter":"datum.c=='oE1'||datum.c=='oE2'"}],"mark":{"type":"square","color":"#e3191c"},"encoding":{}}]},
  {"encoding":{"x":{"field":"q","type":"quantitative","scale":{"domain":[0,79.8],"range":[15,256.7],"nice":false,"zero":false},"axis":{"orient":"top","offset":-254,"grid":true,"labels":false,"values":[0,5,10,15,20,25,30,35,40,45,50,55,60,65,70],"title":null}},
   "y":{"field":"v","type":"quantitative","scale":{"domain":[0,4.55],"range":[254,175.7],"nice":false,"zero":false},"axis":{"orient":"left","offset":-15,"grid":true,"values":[0,0.5,1,1.5,2,2.5,3,3.5],"format":".1f","title":["P","[kW]"],"titleY":174}}},
   "layer":[
    {"transform":[{"filter":"datum.c=='P1'"}],"mark":{"type":"line","color":"#2f62a0","strokeWidth":1.5},"encoding":{}},
    {"transform":[{"filter":"datum.c=='P2'"}],"mark":{"type":"line","color":"#6a93c3","strokeWidth":1.4},"encoding":{}},
    {"transform":[{"filter":"datum.c=='oP1'||datum.c=='oP2'"}],"mark":{"type":"square","color":"#e3191c"},"encoding":{}},
    {"transform":[{"filter":"datum.c=='P1'||datum.c=='P2'"},{"joinaggregate":[{"op":"max","field":"q","as":"m"}],"groupby":["c"]},{"filter":"datum.q==datum.m"}],"mark":{"type":"text"},"encoding":{"text":{"field":"c"}}}]},
  {"encoding":{"x":{"field":"q","type":"quantitative","scale":{"domain":[-4.952,86.17],"range":[0,276],"nice":false,"zero":false},"axis":{"orient":"top","offset":-18,"labels":false,"grid":false,"domainColor":"#000","domainWidth":1,"title":"Section 5. （100A×700LPM×14M×4.0HP）","titleFont":"Liberation Serif","titleFontSize":12.5,"titleColor":"#000","titleX":5,"titleY":-3,"titleAlign":"left","titleBaseline":"alphabetic"}},
   "y":{"field":"v","type":"quantitative","scale":{"domain":[0,18.2],"range":[254,175.7],"nice":false,"zero":false},"axis":{"orient":"right","offset":-19.3,"values":[0,2,4,6,8,10,12,14],"title":["NPSH","[m]"],"titleY":174}}},
   "layer":[
    {"transform":[{"filter":"datum.c=='N'"}],"mark":{"type":"line","color":"#1c1c1c","strokeWidth":1.4},"encoding":{}},
    {"transform":[{"filter":"datum.c=='oN'"}],"mark":{"type":"square","color":"#e3191c"},"encoding":{}}]},
  {"encoding":{"x":{"field":"q","type":"quantitative","scale":{"domain":[-3.632,85.512],"range":[4,274],"nice":false,"zero":false},"axis":{"orient":"top","grid":true,"labels":false,"domain":false,"values":[-3.632,85.512],"gridColor":"#b4b4b4","gridWidth":0.8,"title":null}},
   "y":{"field":"v","type":"quantitative","scale":{"domain":[-14.506,24.391],"range":[256.5,20],"nice":false,"zero":false},"axis":{"orient":"left","grid":true,"labels":false,"domain":false,"values":[-14.506,24.391],"gridColor":"#b4b4b4","gridWidth":0.8,"title":null}}},
   "layer":[{"transform":[{"filter":"datum.c=='oH'"}],"mark":{"type":"square","color":"#f2b316"},"encoding":{}}]}
 ]},
{"width":270,"height":259,"data":{"name":"F"},
 "resolve":{"scale":{"x":"independent","y":"independent"},"axis":{"x":"independent","y":"independent"}},
 "layer":[
  {"encoding":{"x":{"field":"q","type":"quantitative","scale":{"domain":[0,29.4],"range":[12.7,255],"nice":false,"zero":false},"axis":{"orient":"top","offset":-168.3,"grid":true,"labels":false,"values":[0,1,2,3,4,5,6,7,8,9,10,11,12,13,14,15,16,17,18,19,20,21,22,23,24,25,26,27],"title":null}},
   "y":{"field":"v","type":"quantitative","scale":{"domain":[0,21.86],"range":[168.3,22.5],"nice":false,"zero":false},"axis":{"orient":"left","offset":-12.7,"grid":true,"values":[0,2,4,6,8,10,12,14,16,18],"title":["H","[m]"],"titleY":22.5}}},
   "layer":[
    {"transform":[{"filter":"datum.c=='S'"}],"mark":{"type":"line","color":"#f3a5a5","strokeWidth":0.9},"encoding":{}},
    {"transform":[{"filter":"datum.c=='H'"}],"mark":{"type":"line","color":"#2f62a0","strokeWidth":1.6},"encoding":{}}]},
  {"encoding":{"x":{"field":"q","type":"quantitative","scale":{"domain":[0,29.4],"range":[12.7,255],"nice":false,"zero":false},"axis":{"orient":"bottom","offset":-90.7,"values":[0,1,2,3,4,5,6,7,8,9,10,11,12,13,14,15,16,17,18,19,20,21,22,23,24,25,26,27],"title":"Q [m³/h]","titleX":248,"titleY":2}},
   "y":{"field":"v","type":"quantitative","scale":{"domain":[0,218.6],"range":[168.3,22.5],"nice":false,"zero":false},"axis":{"orient":"right","offset":-15,"values":[0,20,40,60,80,100],"title":["η","[%]"],"titleY":22.5}}},
   "layer":[
    {"transform":[{"filter":"datum.c=='E1'"}],"mark":{"type":"line","color":"#8c8c8c","strokeWidth":1.3},"encoding":{}},
    {"transform":[{"filter":"datum.c=='E2'"}],"mark":{"type":"line","color":"#1c1c1c","strokeWidth":1.4},"encoding":{}},
    {"transform":[{"filter":"datum.c=='oE1'||datum.c=='oE2'"}],"mark":{"type":"square","color":"#e3191c"},"encoding":{}}]},
  {"encoding":{"x":{"field":"q","type":"quantitative","scale":{"domain":[0,29.4],"range":[12.7,255],"nice":false,"zero":false},"axis":{"orient":"top","offset":-254,"grid":true,"labels":false,"values":[0,1,2,3,4,5,6,7,8,9,10,11,12,13,14,15,16,17,18,19,20,21,22,23,24,25,26,27],"title":null}},
   "y":{"field":"v","type":"quantitative","scale":{"domain":[0,2.35],"range":[254,175.7],"nice":false,"zero":false},"axis":{"orient":"left","offset":-12.7,"grid":true,"values":[0,0.5,1,1.5,2],"format":".1f","title":["P","[kW]"],"titleY":174}}},
   "layer":[
    {"transform":[{"filter":"datum.c=='P1'"}],"mark":{"type":"line","color":"#2f62a0","strokeWidth":1.5},"encoding":{}},
    {"transform":[{"filter":"datum.c=='P2'"}],"mark":{"type":"line","color":"#6a93c3","strokeWidth":1.4},"encoding":{}},
    {"transform":[{"filter":"datum.c=='oP1'||datum.c=='oP2'"}],"mark":{"type":"square","color":"#e3191c"},"encoding":{}},
    {"transform":[{"filter":"datum.c=='P1'||datum.c=='P2'"},{"joinaggregate":[{"op":"max","field":"q","as":"m"}],"groupby":["c"]},{"filter":"datum.q==datum.m"}],"mark":{"type":"text"},"encoding":{"text":{"field":"c"}}}]},
  {"encoding":{"x":{"field":"q","type":"quantitative","scale":{"domain":[-1.541,31.22],"range":[0,270],"nice":false,"zero":false},"axis":{"orient":"top","offset":-18,"labels":false,"grid":false,"domainColor":"#000","domainWidth":1,"title":"Section 6. （100A×650LPM×14M×4,0HP）","titleFont":"Liberation Serif","titleFontSize":12.5,"titleColor":"#000","titleX":3,"titleY":-3,"titleAlign":"left","titleBaseline":"alphabetic"}},
   "y":{"field":"v","type":"quantitative","scale":{"domain":[0,23.5],"range":[254,175.7],"nice":false,"zero":false},"axis":{"orient":"right","offset":-15,"values":[0,5,10,15,20],"title":["NPSH","[m]"],"titleY":174}}},
   "layer":[
    {"transform":[{"filter":"datum.c=='N'"}],"mark":{"type":"line","color":"#1c1c1c","strokeWidth":1.4},"encoding":{}},
    {"transform":[{"filter":"datum.c=='oN'"}],"mark":{"type":"square","color":"#e3191c"},"encoding":{}}]},
  {"encoding":{"x":{"field":"q","type":"quantitative","scale":{"domain":[-1.177,31.038],"range":[3,268.5],"nice":false,"zero":false},"axis":{"orient":"top","grid":true,"labels":false,"domain":false,"values":[-1.177,31.038],"gridColor":"#b4b4b4","gridWidth":0.8,"title":null}},
   "y":{"field":"v","type":"quantitative","scale":{"domain":[-13.224,22.235],"range":[256.5,20],"nice":false,"zero":false},"axis":{"orient":"left","grid":true,"labels":false,"domain":false,"values":[-13.224,22.235],"gridColor":"#b4b4b4","gridWidth":0.8,"title":null}}},
   "layer":[{"transform":[{"filter":"datum.c=='oH'"}],"mark":{"type":"square","color":"#f2b316"},"encoding":{}}]}
 ]},
{"width":279,"height":259,"data":{"name":"F"},
 "resolve":{"scale":{"x":"independent","y":"independent"},"axis":{"x":"independent","y":"independent"}},
 "layer":[
  {"encoding":{"x":{"field":"q","type":"quantitative","scale":{"domain":[0,29.4],"range":[19,259],"nice":false,"zero":false},"axis":{"orient":"top","offset":-168.3,"grid":true,"labels":false,"values":[0,1,2,3,4,5,6,7,8,9,10,11,12,13,14,15,16,17,18,19,20,21,22,23,24,25,26,27],"title":null}},
   "y":{"field":"v","type":"quantitative","scale":{"domain":[0,21.86],"range":[168.3,22.5],"nice":false,"zero":false},"axis":{"orient":"left","offset":-19,"grid":true,"values":[0,2,4,6,8,10,12,14,16,18],"title":["H","[m]"],"titleY":22.5}}},
   "layer":[
    {"transform":[{"filter":"datum.c=='S'"}],"mark":{"type":"line","color":"#f3a5a5","strokeWidth":0.9},"encoding":{}},
    {"transform":[{"filter":"datum.c=='H'"}],"mark":{"type":"line","color":"#2f62a0","strokeWidth":1.6},"encoding":{}}]},
  {"encoding":{"x":{"field":"q","type":"quantitative","scale":{"domain":[0,29.4],"range":[19,259],"nice":false,"zero":false},"axis":{"orient":"bottom","offset":-90.7,"values":[0,1,2,3,4,5,6,7,8,9,10,11,12,13,14,15,16,17,18,19,20,21,22,23,24,25,26,27],"title":"Q [m³/h]","titleX":251,"titleY":2}},
   "y":{"field":"v","type":"quantitative","scale":{"domain":[0,218.6],"range":[168.3,22.5],"nice":false,"zero":false},"axis":{"orient":"right","offset":-20,"values":[0,20,40,60,80,100],"title":["η","[%]"],"titleY":22.5}}},
   "layer":[
    {"transform":[{"filter":"datum.c=='E1'"}],"mark":{"type":"line","color":"#8c8c8c","strokeWidth":1.3},"encoding":{}},
    {"transform":[{"filter":"datum.c=='E2'"}],"mark":{"type":"line","color":"#1c1c1c","strokeWidth":1.4},"encoding":{}},
    {"transform":[{"filter":"datum.c=='oE1'||datum.c=='oE2'"}],"mark":{"type":"square","color":"#e3191c"},"encoding":{}}]},
  {"encoding":{"x":{"field":"q","type":"quantitative","scale":{"domain":[0,29.4],"range":[19,259],"nice":false,"zero":false},"axis":{"orient":"top","offset":-254,"grid":true,"labels":false,"values":[0,1,2,3,4,5,6,7,8,9,10,11,12,13,14,15,16,17,18,19,20,21,22,23,24,25,26,27],"title":null}},
   "y":{"field":"v","type":"quantitative","scale":{"domain":[0,2.35],"range":[254,175.7],"nice":false,"zero":false},"axis":{"orient":"left","offset":-19,"grid":true,"values":[0,0.5,1,1.5,2],"format":".1f","title":["P","[kW]"],"titleY":174}}},
   "layer":[
    {"transform":[{"filter":"datum.c=='P1'"}],"mark":{"type":"line","color":"#2f62a0","strokeWidth":1.5},"encoding":{}},
    {"transform":[{"filter":"datum.c=='P2'"}],"mark":{"type":"line","color":"#6a93c3","strokeWidth":1.4},"encoding":{}},
    {"transform":[{"filter":"datum.c=='oP1'||datum.c=='oP2'"}],"mark":{"type":"square","color":"#e3191c"},"encoding":{}},
    {"transform":[{"filter":"datum.c=='P1'||datum.c=='P2'"},{"joinaggregate":[{"op":"max","field":"q","as":"m"}],"groupby":["c"]},{"filter":"datum.q==datum.m"}],"mark":{"type":"text"},"encoding":{"text":{"field":"c"}}}]},
  {"encoding":{"x":{"field":"q","type":"quantitative","scale":{"domain":[-2.3275,31.85],"range":[0,279],"nice":false,"zero":false},"axis":{"orient":"top","offset":-18,"labels":false,"grid":false,"domainColor":"#000","domainWidth":1,"title":"Section 7 （65A×333LPM×10M×1,5HP）","titleFont":"Liberation Serif","titleFontSize":12.5,"titleColor":"#000","titleX":9,"titleY":-3,"titleAlign":"left","titleBaseline":"alphabetic"}},
   "y":{"field":"v","type":"quantitative","scale":{"domain":[0,23.5],"range":[254,175.7],"nice":false,"zero":false},"axis":{"orient":"right","offset":-20,"values":[0,5,10,15,20],"title":["NPSH","[m]"],"titleY":174}}},
   "layer":[
    {"transform":[{"filter":"datum.c=='N'"}],"mark":{"type":"line","color":"#1c1c1c","strokeWidth":1.4},"encoding":{}},
    {"transform":[{"filter":"datum.c=='oN'"}],"mark":{"type":"square","color":"#e3191c"},"encoding":{}}]},
  {"encoding":{"x":{"field":"q","type":"quantitative","scale":{"domain":[-2.144,31.605],"range":[1.5,277],"nice":false,"zero":false},"axis":{"orient":"top","grid":true,"labels":false,"domain":false,"values":[-2.144,31.605],"gridColor":"#b4b4b4","gridWidth":0.8,"title":null}},
   "y":{"field":"v","type":"quantitative","scale":{"domain":[-13.224,22.235],"range":[256.5,20],"nice":false,"zero":false},"axis":{"orient":"left","grid":true,"labels":false,"domain":false,"values":[-13.224,22.235],"gridColor":"#b4b4b4","gridWidth":0.8,"title":null}}},
   "layer":[{"transform":[{"filter":"datum.c=='oH'"}],"mark":{"type":"square","color":"#f2b316"},"encoding":{}}]}
 ]},
{"width":276,"height":259,"data":{"name":"A"},
 "resolve":{"scale":{"x":"independent","y":"independent"},"axis":{"x":"independent","y":"independent"}},
 "layer":[
  {"encoding":{"x":{"field":"q","type":"quantitative","scale":{"domain":[0,103.7],"range":[15,256.7],"nice":false,"zero":false},"axis":{"orient":"top","offset":-168.3,"grid":true,"labels":false,"values":[0,10,20,30,40,50,60,70,80,90],"title":null}},
   "y":{"field":"v","type":"quantitative","scale":{"domain":[0,23.98],"range":[168.3,22.5],"nice":false,"zero":false},"axis":{"orient":"left","offset":-15,"grid":true,"values":[0,2,4,6,8,10,12,14,16,18,20],"title":["H","[m]"],"titleY":22.5}}},
   "layer":[
    {"transform":[{"filter":"datum.c=='S'"}],"mark":{"type":"line","color":"#f3a5a5","strokeWidth":0.9},"encoding":{}},
    {"transform":[{"filter":"datum.c=='H'"}],"mark":{"type":"line","color":"#2f62a0","strokeWidth":1.6},"encoding":{}}]},
  {"encoding":{"x":{"field":"q","type":"quantitative","scale":{"domain":[0,103.7],"range":[15,256.7],"nice":false,"zero":false},"axis":{"orient":"bottom","offset":-90.7,"values":[0,10,20,30,40,50,60,70,80,90],"title":"Q [m³/h]","titleX":249,"titleY":2}},
   "y":{"field":"v","type":"quantitative","scale":{"domain":[0,119.9],"range":[168.3,22.5],"nice":false,"zero":false},"axis":{"orient":"right","offset":-19.3,"values":[0,10,20,30,40,50,60,70,80,90,100],"title":["η","[%]"],"titleY":22.5}}},
   "layer":[
    {"transform":[{"filter":"datum.c=='E1'"}],"mark":{"type":"line","color":"#8c8c8c","strokeWidth":1.3},"encoding":{}},
    {"transform":[{"filter":"datum.c=='E2'"}],"mark":{"type":"line","color":"#1c1c1c","strokeWidth":1.4},"encoding":{}},
    {"transform":[{"filter":"datum.c=='oE1'||datum.c=='oE2'"}],"mark":{"type":"square","color":"#e3191c"},"encoding":{}}]},
  {"encoding":{"x":{"field":"q","type":"quantitative","scale":{"domain":[0,103.7],"range":[15,256.7],"nice":false,"zero":false},"axis":{"orient":"top","offset":-254,"grid":true,"labels":false,"values":[0,10,20,30,40,50,60,70,80,90],"title":null}},
   "y":{"field":"v","type":"quantitative","scale":{"domain":[0,5.84],"range":[254,175.7],"nice":false,"zero":false},"axis":{"orient":"left","offset":-15,"grid":true,"values":[0,1,2,3,4,5],"title":["P","[kW]"],"titleY":174}}},
   "layer":[
    {"transform":[{"filter":"datum.c=='P1'"}],"mark":{"type":"line","color":"#2f62a0","strokeWidth":1.5},"encoding":{}},
    {"transform":[{"filter":"datum.c=='P2'"}],"mark":{"type":"line","color":"#6a93c3","strokeWidth":1.4},"encoding":{}},
    {"transform":[{"filter":"datum.c=='oP1'||datum.c=='oP2'"}],"mark":{"type":"square","color":"#e3191c"},"encoding":{}},
    {"transform":[{"filter":"datum.c=='P1'||datum.c=='P2'"},{"joinaggregate":[{"op":"max","field":"q","as":"m"}],"groupby":["c"]},{"filter":"datum.q==datum.m"}],"mark":{"type":"text"},"encoding":{"text":{"field":"c"}}}]},
  {"encoding":{"x":{"field":"q","type":"quantitative","scale":{"domain":[-6.436,111.98],"range":[0,276],"nice":false,"zero":false},"axis":{"orient":"top","offset":-18,"labels":false,"grid":false,"domainColor":"#000","domainWidth":1,"title":"Section 8 （100A×1,100LPM×10M×5,5HP）","titleFont":"Liberation Serif","titleFontSize":12.5,"titleColor":"#000","titleX":5,"titleY":-3,"titleAlign":"left","titleBaseline":"alphabetic"}},
   "y":{"field":"v","type":"quantitative","scale":{"domain":[0,29.2],"range":[254,175.7],"nice":false,"zero":false},"axis":{"orient":"right","offset":-19.3,"values":[0,5,10,15,20,25],"title":["NPSH","[m]"],"titleY":174}}},
   "layer":[
    {"transform":[{"filter":"datum.c=='N'"}],"mark":{"type":"line","color":"#1c1c1c","strokeWidth":1.4},"encoding":{}},
    {"transform":[{"filter":"datum.c=='oN'"}],"mark":{"type":"square","color":"#e3191c"},"encoding":{}}]},
  {"encoding":{"x":{"field":"q","type":"quantitative","scale":{"domain":[-4.719,111.123],"range":[4,274],"nice":false,"zero":false},"axis":{"orient":"top","grid":true,"labels":false,"domain":false,"values":[-4.719,111.123],"gridColor":"#b4b4b4","gridWidth":0.8,"title":null}},
   "y":{"field":"v","type":"quantitative","scale":{"domain":[-14.506,24.391],"range":[256.5,20],"nice":false,"zero":false},"axis":{"orient":"left","grid":true,"labels":false,"domain":false,"values":[-14.506,24.391],"gridColor":"#b4b4b4","gridWidth":0.8,"title":null}}},
   "layer":[{"transform":[{"filter":"datum.c=='oH'"}],"mark":{"type":"square","color":"#f2b316"},"encoding":{}}]}
 ]},
{"width":270,"height":259,"data":{"name":"G"},
 "resolve":{"scale":{"x":"independent","y":"independent"},"axis":{"x":"independent","y":"independent"}},
 "layer":[
  {"encoding":{"x":{"field":"q","type":"quantitative","scale":{"domain":[-11.69,244.92],"range":[0,270],"nice":false,"zero":false},"axis":{"orient":"top","offset":-18,"labels":false,"grid":false,"domainColor":"#000","domainWidth":1,"title":"Booster pump （200A×1,400LPM×109M×80,0HP）","titleFont":"Liberation Serif","titleFontSize":12,"titleColor":"#000","titleX":3,"titleY":-3,"titleAlign":"left","titleBaseline":"alphabetic"}},
   "y":{"field":"v","type":"quantitative","scale":{"domain":[0,137],"range":[212.3,64],"nice":false,"zero":false},"axis":null}},
   "layer":[
    {"transform":[{"filter":"datum.c=='AR'"}],"mark":{"type":"area","color":"#d4e2ef","opacity":1,"interpolate":"monotone"},"encoding":{"y2":{"field":"w"}}}]},
  {"encoding":{"x":{"field":"q","type":"quantitative","scale":{"domain":[0,233.8],"range":[12.3,258.3],"nice":false,"zero":false},"axis":{"orient":"top","offset":-212.3,"grid":true,"labels":false,"values":[0,20,40,60,80,100,120,140,160,180,200],"title":null}},
   "y":{"field":"v","type":"quantitative","scale":{"domain":[0,137],"range":[212.3,64],"nice":false,"zero":false},"axis":{"orient":"left","offset":-12.3,"grid":true,"values":[0,10,20,30,40,50,60,70,80,90,100,110,120],"title":["H","[m]"],"titleY":64}}},
   "layer":[
    {"transform":[{"filter":"datum.c=='S'"}],"mark":{"type":"line","color":"#f09a9a","strokeWidth":1},"encoding":{}},
    {"transform":[{"filter":"datum.c=='oH'"}],"mark":{"type":"rule","color":"#9a9a9a","strokeWidth":1.2},"encoding":{"x2":{"datum":0}}},
    {"transform":[{"filter":"datum.c=='oH'"}],"mark":{"type":"rule","color":"#555555","strokeWidth":1},"encoding":{"y2":{"datum":0}}},
    {"transform":[{"filter":"datum.c=='H2'"}],"mark":{"type":"line","color":"#5f8fc3","strokeWidth":1.1},"encoding":{}},
    {"transform":[{"filter":"datum.c=='H1'"}],"mark":{"type":"line","color":"#3b6fa8","strokeWidth":1.2},"encoding":{}},
    {"transform":[{"filter":"datum.c=='M1'||datum.c=='M2'"}],"mark":{"type":"line","color":"#e03ddc","strokeWidth":1.1},"encoding":{"detail":{"field":"c"}}}]},
  {"encoding":{"x":{"field":"q","type":"quantitative","scale":{"domain":[0,233.8],"range":[12.3,258.3],"nice":false,"zero":false},"axis":{"orient":"bottom","offset":-46.7,"values":[0,20,40,60,80,100,120,140,160,180,200],"title":"Q [m³/h]","titleX":250,"titleY":2}},
   "y":{"field":"v","type":"quantitative","scale":{"domain":[0,137],"range":[212.3,64],"nice":false,"zero":false},"axis":{"orient":"right","offset":-11.7,"values":[0,10,20,30,40,50,60,70,80,90,100],"title":["η","[%]"],"titleY":64}}},
   "layer":[
    {"transform":[{"filter":"datum.c=='K1'||datum.c=='K2'||datum.c=='K3'"}],"mark":{"type":"line","color":"#222222","strokeWidth":1.2},"encoding":{"detail":{"field":"c"}}},
    {"transform":[{"filter":"datum.c=='oK'"}],"mark":{"type":"square","color":"#e3191c"},"encoding":{}}]},
  {"encoding":{"x":{"field":"q","type":"quantitative","scale":{"domain":[-8.839,243.495],"range":[3,268.5],"nice":false,"zero":false},"axis":{"orient":"top","grid":true,"labels":false,"domain":false,"values":[-8.839,243.495],"gridColor":"#b4b4b4","gridWidth":0.8,"title":null}},
   "y":{"field":"v","type":"quantitative","scale":{"domain":[-40.832,177.648],"range":[256.5,20],"nice":false,"zero":false},"axis":{"orient":"left","grid":true,"labels":false,"domain":false,"values":[-40.832,177.648],"gridColor":"#b4b4b4","gridWidth":0.8,"title":null}}},
   "layer":[{"transform":[{"filter":"datum.c=='oH'"}],"mark":{"type":"square","color":"#f2b316"},"encoding":{}}]}
 ]}
]
}
